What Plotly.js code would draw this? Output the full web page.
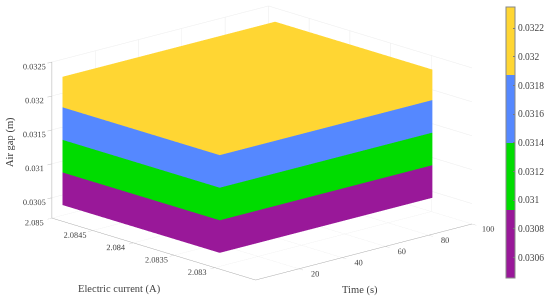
<!DOCTYPE html>
<html><head><meta charset="utf-8">
<script src="https://cdn.plot.ly/plotly-3.0.1.min.js"></script>
<style>html,body{margin:0;padding:0;background:#fff}#c{width:550px;height:299px}</style>
</head><body><div id="c"></div><script>
const timeBounds=[0,98.2];
const currentBounds=[2.08294,2.08487];
const bandEdges=[0.03044,0.03092,0.0314,0.03188,0.03233];
const colorRange=[0.03046,0.03235];
const colors=['#991899','#00DC00','#5588FF','#FFD633'];
const colorbarTicks=[0.0306,0.0308,0.031,0.0312,0.0314,0.0316,0.0318,0.032,0.0322];
const timeTicks=[20,40,60,80,100];
const currentTicks=[2.083,2.0835,2.084,2.0845,2.085];
const gapTicks=[0.0305,0.031,0.0315,0.032,0.0325];
const cs=[];
colors.forEach((c,i)=>{cs.push([i/4,c]);cs.push([(i+1)/4,c]);});
const traces=colors.map((c,i)=>{
 const z0=bandEdges[i],z1=bandEdges[i+1],[x0,x1]=timeBounds,[y0,y1]=currentBounds,m=(z0+z1)/2;
 return {type:'mesh3d',
  x:[x0,x1,x1,x0,x0,x1,x1,x0],y:[y0,y0,y1,y1,y0,y0,y1,y1],z:[z0,z0,z0,z0,z1,z1,z1,z1],
  i:[0,0,4,4,0,0,1,1,2,2,3,3],j:[1,2,5,6,1,5,2,6,3,7,0,4],k:[2,3,6,7,5,4,6,5,7,6,4,7],
  intensity:Array(8).fill(m),cmin:colorRange[0],cmax:colorRange[1],colorscale:cs,
  flatshading:true,lighting:{ambient:1,diffuse:0,specular:0,roughness:1,fresnel:0},
  hoverinfo:'skip',showscale:i===0,
  colorbar:{x:0.92,xanchor:'left',y:0.525,yanchor:'middle',len:271,lenmode:'pixels',thickness:9,thicknessmode:'pixels',
   tickvals:colorbarTicks,ticktext:colorbarTicks.map(String),ticks:'inside',ticklen:2,tickcolor:'#777',
   outlinecolor:'#888',outlinewidth:1,tickfont:{family:'Liberation Serif',size:9.5,color:'#444'},xpad:0,ypad:0}
 };
});
const ax=(range,tv)=>({title:{text:''},range,tickvals:tv,ticktext:tv.map(String),tickangle:0,
 tickfont:{family:'Liberation Serif',size:10,color:'#444'},showbackground:false,gridcolor:'#ececec',gridwidth:1,
 showline:true,linecolor:'#aaa',linewidth:1,ticks:'outside',ticklen:6,tickcolor:'#bbb',zeroline:false,showspikes:false,autorange:false});
const note=(text,x,y,textangle)=>({text,x:x/550,y:1-y/299,xref:'paper',yref:'paper',xanchor:'center',yanchor:'middle',showarrow:false,textangle,
 font:{family:'Liberation Serif',size:10.5,color:'#444'}});
Plotly.newPlot('c',traces,{width:550,height:299,margin:{l:0,r:0,t:0,b:0},paper_bgcolor:'#fff',showlegend:false,
 annotations:[note('Electric current (A)',119,289,0),note('Time (s)',360,290,0),note('Air gap (m)',10,142,-90)],
 scene:{domain:{x:[0,0.953],y:[0.045,1]},
  xaxis:ax([0,100],timeTicks),yaxis:ax([2.0825,2.085],currentTicks),zaxis:ax([0.0302,0.0325],gapTicks),
  aspectmode:'manual',aspectratio:{x:2.06,y:2.1,z:1.137},
  camera:{projection:{type:'orthographic'},up:{x:0,y:0,z:1},center:{x:0,y:0,z:0},eye:{x:-1.31,y:-1.42,z:0.565}}}
},{displayModeBar:false});
</script></body></html>
